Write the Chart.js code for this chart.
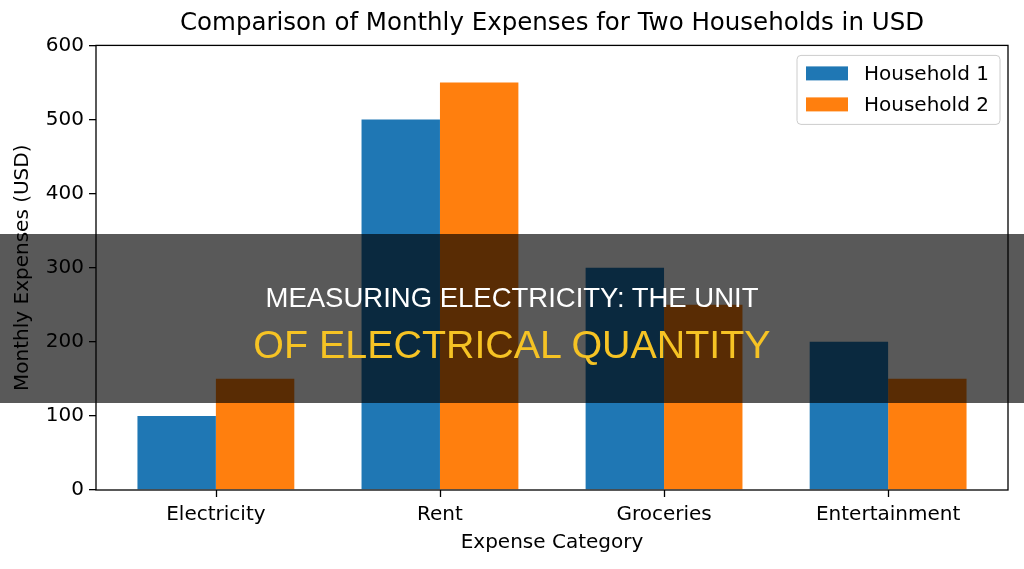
<!DOCTYPE html>
<html>
<head>
<meta charset="utf-8">
<script src="https://cdn.jsdelivr.net/npm/chart.js@4"></script>
<style>
  html, body { margin: 0; padding: 0; background: #fff; }
  #wrap { position: relative; width: 1024px; height: 569px; overflow: hidden; }
  #banner {
    position: absolute; left: 0; top: 234px; width: 1024px; height: 169px;
    background: rgba(0, 0, 0, 0.65);
    font-family: "Liberation Sans", Arial, sans-serif;
  }
  #banner div { position: absolute; left: 0; width: 100%; text-align: center; line-height: 1; white-space: nowrap; }
  #line1 { top: 50px; font-size: 27.5px; color: #ffffff; }
  #line2 { top: 91px; font-size: 39.4px; color: #f6c324; }
</style>
</head>
<body>
<div id="wrap">
  <canvas id="barChart" width="1024" height="569"></canvas>
  <div id="banner">
    <div id="line1">MEASURING ELECTRICITY: THE UNIT</div>
    <div id="line2">OF ELECTRICAL QUANTITY</div>
  </div>
</div>
<script>
// data
const categories = ["Electricity", "Rent", "Groceries", "Entertainment"];
const household1 = [100, 500, 300, 200];
const household2 = [150, 550, 250, 150];
const seriesNames = ["Household 1", "Household 2"];
const yTicks = [0, 100, 200, 300, 400, 500, 600];

Chart.defaults.font.family = "'DejaVu Sans', sans-serif";
Chart.defaults.color = "#000";

// box around the plot + x tick marks, like matplotlib
const frame = {
  id: 'frame',
  afterDatasetsDraw(chart) {
    const a = chart.chartArea, ctx = chart.ctx;
    const xs = chart.scales.x;
    ctx.save();
    ctx.strokeStyle = '#000';
    ctx.lineWidth = 1.3;
    ctx.strokeRect(a.left, a.top, a.right - a.left, a.bottom - a.top);
    ctx.beginPath();
    xs.ticks.forEach((t, i) => {
      const px = Math.round(xs.getPixelForTick(i)) + 0.5;
      ctx.moveTo(px, a.bottom);
      ctx.lineTo(px, a.bottom + 7);
    });
    ctx.stroke();
    ctx.restore();
  }
};

// legend inside the top right corner
const innerLegend = {
  id: 'innerLegend',
  afterDraw(chart) {
    const ctx = chart.ctx, a = chart.chartArea;
    const w = 203, h = 69;
    const x = a.right - 8 - w, y = a.top + 10;
    ctx.save();
    ctx.beginPath();
    ctx.roundRect(x, y, w, h, 4);
    ctx.fillStyle = 'rgba(255,255,255,0.8)';
    ctx.fill();
    ctx.strokeStyle = '#cccccc';
    ctx.lineWidth = 1;
    ctx.stroke();
    ctx.font = "20px 'DejaVu Sans'";
    ctx.textBaseline = 'middle';
    chart.data.datasets.forEach((ds, i) => {
      const cy = y + 18 + i * 31;
      ctx.fillStyle = ds.backgroundColor;
      ctx.fillRect(x + 9, cy - 7, 42, 14);
      ctx.fillStyle = '#000';
      ctx.fillText(ds.label, x + 67, cy + 1);
    });
    ctx.restore();
  }
};

const ctx = document.getElementById('barChart').getContext('2d');
new Chart(ctx, {
  type: 'bar',
  data: {
    datasets: [
      {
        label: seriesNames[0],
        data: household1.map((v, i) => ({ x: i, y: v })),
        backgroundColor: '#1f77b4'
      },
      {
        label: seriesNames[1],
        data: household2.map((v, i) => ({ x: i, y: v })),
        backgroundColor: '#ff7f0e'
      }
    ]
  },
  options: {
    responsive: false,
    animation: false,
    layout: { padding: { left: 0, right: 16, top: 0, bottom: 0 } },
    datasets: { bar: { categoryPercentage: 0.7, barPercentage: 1.0, borderWidth: 0 } },
    plugins: {
      legend: { display: false },
      tooltip: { enabled: false },
      title: {
        display: true,
        fullSize: false,
        text: 'Comparison of Monthly Expenses for Two Households in USD',
        font: { size: 24.5, weight: 'normal' },
        color: '#000',
        padding: { top: 9, bottom: 7 }
      }
    },
    scales: {
      x: {
        type: 'linear',
        min: -0.535,
        max: 3.535,
        offset: false,
        afterBuildTicks: (s) => { s.ticks = categories.map((c, i) => ({ value: i })); },
        afterFit: (s) => { s.height = 79; },
        ticks: {
          callback: (v) => categories[v],
          font: { size: 20 },
          color: '#000',
          padding: 5,
          maxRotation: 0,
          autoSkip: false
        },
        grid: { display: false },
        border: { display: false },
        title: {
          display: true,
          text: 'Expense Category',
          font: { size: 20 },
          color: '#000',
          padding: { top: 0, bottom: 14 }
        }
      },
      y: {
        min: 0,
        max: 600,
        afterBuildTicks: (s) => { s.ticks = yTicks.map(v => ({ value: v })); },
        afterFit: (s) => { s.width = 96; },
        ticks: {
          font: { size: 20 },
          color: '#000',
          padding: 5
        },
        grid: { drawOnChartArea: false, drawTicks: true, tickLength: 7, color: '#000', lineWidth: 1.3 },
        border: { display: false },
        title: {
          display: true,
          text: 'Monthly Expenses (USD)',
          font: { size: 20 },
          color: '#000',
          padding: { top: 11, bottom: 0 }
        }
      }
    }
  },
  plugins: [frame, innerLegend]
});
</script>
</body>
</html>
